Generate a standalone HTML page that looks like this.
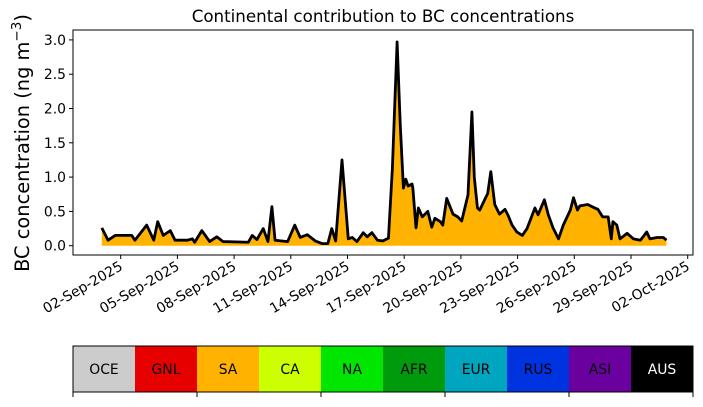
<!DOCTYPE html>
<html><head><meta charset="utf-8"><style>
body{margin:0;background:#fff;font-family:"Liberation Sans","DejaVu Sans",sans-serif}
svg text{font-family:"DejaVu Sans","Liberation Sans",sans-serif}
</style></head><body>
<svg id="chart" width="703" height="402" viewBox="0 0 703 402" xmlns="http://www.w3.org/2000/svg">
<rect x="0" y="0" width="703" height="402" fill="#fff"/>
<text x="383" y="22" font-size="16.7" text-anchor="middle">Continental contribution to BC concentrations</text>
<text transform="translate(29,143) rotate(-90)" font-size="19.4" text-anchor="middle">BC concentration (ng m<tspan baseline-shift="super" font-size="13.5">−3</tspan>)</text>
<g id="plot"></g>
<g id="legend"></g>
</svg>
<script>
const hours=[0,8,17,38,42,57,66,71,78,87,93,109,115,118,127,137,146,154,186,191,197,205,211,216,220,236,245,252,261,271,280,287,292,297,305,313,318,324,332,337,343,350,357,364,369,375,379,383,386,389,394,395,399,402,407,414,419,423,430,433,438,446,452,457,465,470,473,477,480,487,490,494,499,505,512,516,521,527,534,540,550,554,562,567,573,580,586,595,599,604,607,617,624,630,636,643,647,649,654,658,667,675,684,692,696,705,713,717];
const totals=[0.26,0.08,0.15,0.15,0.08,0.30,0.08,0.35,0.15,0.22,0.08,0.08,0.10,0.05,0.22,0.06,0.13,0.06,0.05,0.15,0.09,0.25,0.06,0.57,0.08,0.06,0.30,0.12,0.16,0.07,0.03,0.03,0.25,0.07,1.25,0.10,0.12,0.06,0.19,0.13,0.19,0.08,0.07,0.11,1.13,2.97,1.76,0.84,0.97,0.87,0.90,0.84,0.26,0.55,0.42,0.50,0.27,0.40,0.35,0.30,0.69,0.46,0.42,0.36,0.74,1.95,1.00,0.55,0.52,0.69,0.76,1.08,0.60,0.46,0.53,0.44,0.30,0.20,0.15,0.25,0.55,0.45,0.67,0.45,0.26,0.10,0.30,0.52,0.70,0.52,0.58,0.60,0.56,0.53,0.42,0.42,0.10,0.35,0.30,0.10,0.18,0.10,0.08,0.20,0.10,0.12,0.12,0.08];
const yTicks=[0,0.5,1.0,1.5,2.0,2.5,3.0];
const xTickDays=[1,4,7,10,13,16,19,22,25,28,31];
const xTickLabels=["02-Sep-2025","05-Sep-2025","08-Sep-2025","11-Sep-2025","14-Sep-2025","17-Sep-2025","20-Sep-2025","23-Sep-2025","26-Sep-2025","29-Sep-2025","02-Oct-2025"];
const regions=["OCE","GNL","SA","CA","NA","AFR","EUR","RUS","ASI","AUS"];
const regionColors=["#cccccc","#e60000","#ffb300","#ccff00","#00e600","#009b0c","#00a5bf","#0033e0","#6a009e","#000000"];

const NS="http://www.w3.org/2000/svg";
const L=73,R=693,T=30,B=255;
const xs=d=>101.8+d*18.9;
const ys=v=>245.7-v*68.6;
function mk(tag,attrs,parent){const e=document.createElementNS(NS,tag);for(const k in attrs)e.setAttribute(k,attrs[k]);parent.appendChild(e);return e;}
const plot=document.getElementById('plot');
let d="M"+xs(hours[0]/24)+","+ys(0);
hours.forEach((h,i)=>{d+=" L"+xs(h/24).toFixed(2)+","+ys(totals[i]).toFixed(2);});
d+=" L"+xs(hours[hours.length-1]/24)+","+ys(0)+" Z";
const area=mk('path',{d:d,fill:"#ffb300",stroke:"none"},plot);


let ld="";
hours.forEach((h,i)=>{ld+=(i?" L":"M")+xs(h/24).toFixed(2)+","+ys(totals[i]).toFixed(2);});
const line=mk('path',{d:ld,fill:"none",stroke:"#000","stroke-width":2.8,"stroke-linejoin":"round"},plot);


const frame=mk('rect',{x:L,y:T,width:R-L,height:B-T,fill:"none",stroke:"#000","stroke-width":1},plot);


yTicks.forEach(v=>{
  const y=ys(v);
  const t=mk('line',{x1:L-4,x2:L,y1:y,y2:y,stroke:"#000"},plot);
  
  
  const tx=mk('text',{x:L-7,y:y+5,"font-size":13.9,"text-anchor":"end"},plot);
  tx.textContent=v.toFixed(1);
  
  
});
xTickDays.forEach((dd,i)=>{
  const x=xs(dd);
  const t=mk('line',{x1:x,x2:x,y1:B,y2:B+4,stroke:"#000"},plot);
  
  
  const tx=mk('text',{transform:`translate(${x+3},${B+14}) rotate(-30)`,"font-size":13.9,"text-anchor":"end"},plot);
  tx.textContent=xTickLabels[i];
  
  
});
const leg=document.getElementById('legend');
const w=(R-L)/regions.length;
regions.forEach((r,i)=>{
  const c=mk('rect',{x:L+i*w,y:346,width:w+0.5,height:46,fill:regionColors[i]},leg);
  
  
  const tx=mk('text',{x:L+i*w+w/2,y:374,"font-size":13.9,"text-anchor":"middle",fill:r==="AUS"?"#fff":"#000"},leg);
  tx.textContent=r;
  
  
});
const lf=mk('rect',{x:L,y:346,width:R-L,height:46,fill:"none",stroke:"#000","stroke-width":1},leg);


for(let k=0;k<=5;k++){
  const x=L+k*2*w;
  const t=mk('line',{x1:x,x2:x,y1:392,y2:397,stroke:"#000"},leg);
  
  
}
</script>
</body></html>
